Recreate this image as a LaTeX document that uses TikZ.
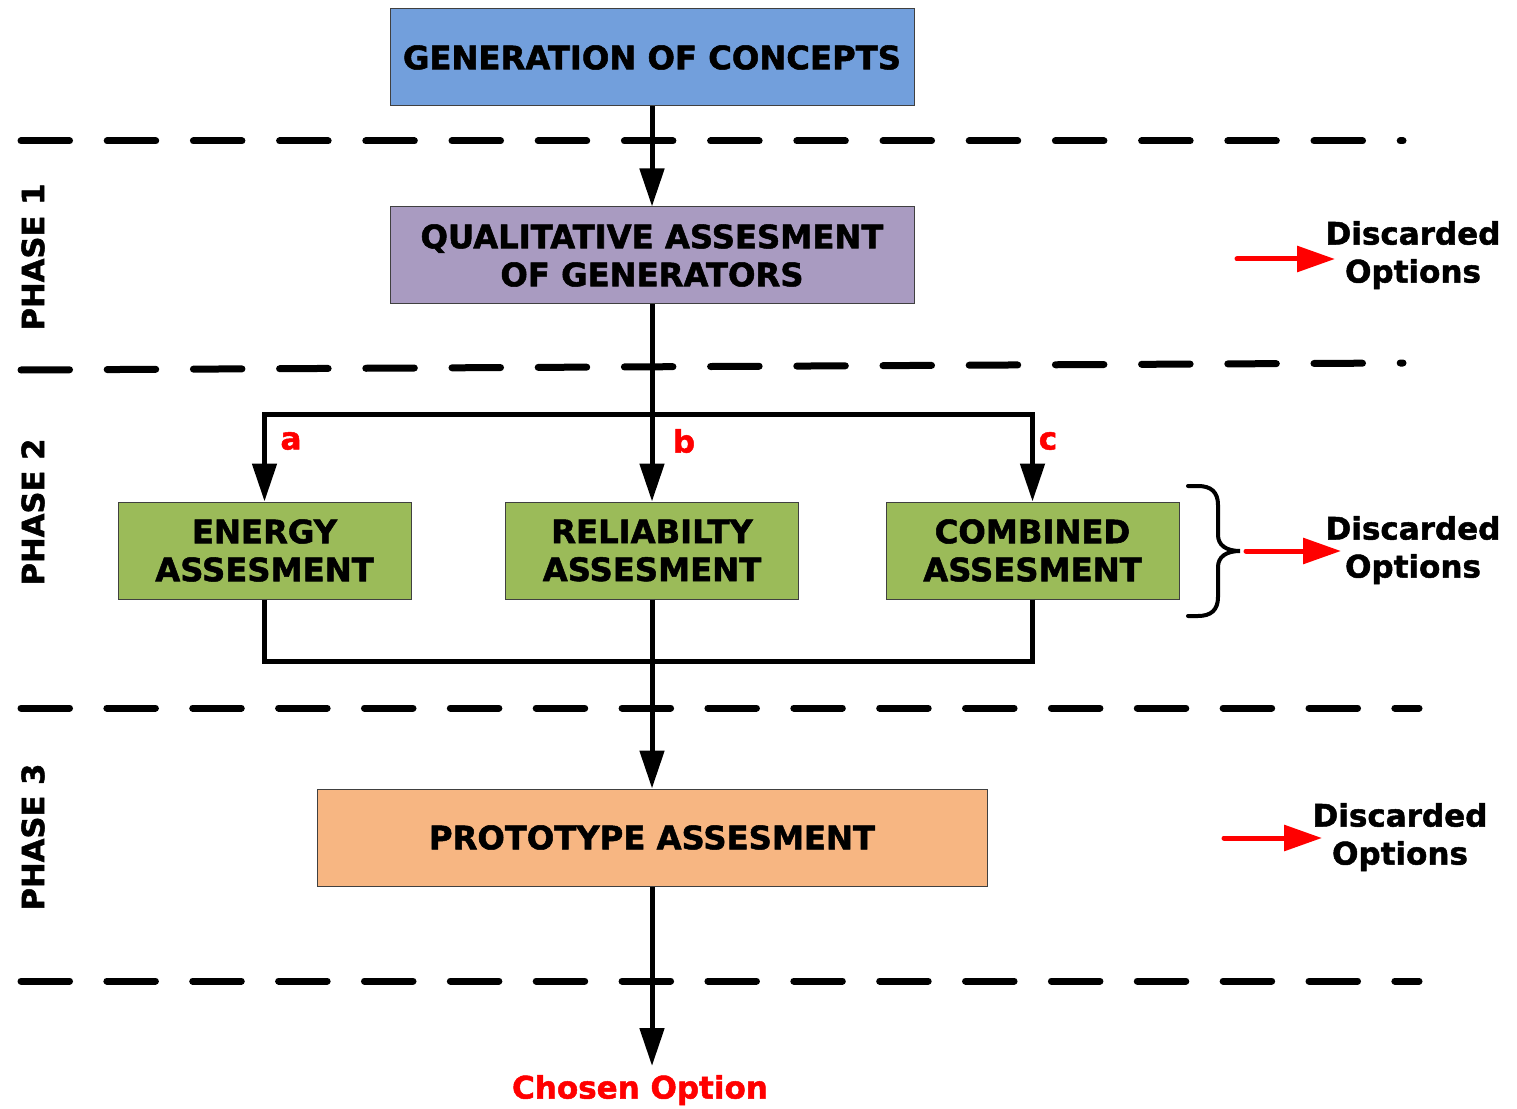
\documentclass[tikz,border=0pt]{standalone}
\usepackage{fontspec}
\setmainfont{DejaVu Sans}[BoldFeatures={FakeBold=1.6}]
\usetikzlibrary{arrows.meta}
\definecolor{cblue}{RGB}{114,159,220}
\definecolor{cpurple}{RGB}{169,155,193}
\definecolor{cgreen}{RGB}{155,187,89}
\definecolor{corange}{RGB}{247,182,130}
\definecolor{boxborder}{RGB}{64,64,64}
\definecolor{cred}{RGB}{255,0,0}
\begin{document}
\begin{tikzpicture}[x=0.75pt,y=-0.75pt,
  box/.style={draw=boxborder, line width=0.75pt, inner sep=0pt, align=center,
    font=\bfseries\fontsize{24.2}{28.5}\selectfont, minimum height=72.75pt},
  bigbox/.style={box, minimum width=393pt},
  greenbox/.style={box, fill=cgreen, minimum width=219.75pt},
  conn/.style={line width=3.75pt},
  arr/.style={conn, -{Triangle[length=28.5pt,width=18pt]}},
  redarr/.style={line width=3.75pt, draw=cred, line cap=round, -{Triangle[length=28.5pt,width=19pt]}},
  phaseline/.style={line width=5.25pt, line cap=round, dash pattern=on 36.4pt off 28.25pt},
  phaselineb/.style={line width=5.25pt, line cap=round, dash pattern=on 36.4pt off 28.0pt},
  phase/.style={rotate=90, font=\bfseries\fontsize{23}{23}\selectfont},
  disc/.style={align=center, font=\bfseries\fontsize{23.25}{28.5}\selectfont},
  lab/.style={text=cred, font=\bfseries\fontsize{23.25}{23.25}\selectfont}]
\useasboundingbox (0,0) rectangle (1517,1109);

% phase separators
\draw[phaseline] (21,141) -- (1403,141);
\draw[phaseline] (21,370) -- (1403,363);
\draw[phaselineb] (21,708) -- (1419,708);
\draw[phaselineb] (21,981) -- (1419,981);

% phase labels
\node[phase] (p1) at (33,257) {PHASE 1};
\node[phase] (p2) at (33,512) {PHASE 2};
\node[phase] (p3) at (33,837) {PHASE 3};

% boxes
\node[bigbox, fill=cblue] (gen) at (652,57.5) {GENERATION OF CONCEPTS};
\node[bigbox, fill=cpurple] (qual) at (652,255.5) {QUALITATIVE ASSESMENT\\OF GENERATORS};
\node[greenbox] (energy) at (264.5,550.5) {ENERGY\\ASSESMENT};
\node[greenbox] (rel) at (652,550.5) {RELIABILTY\\ASSESMENT};
\node[greenbox] (comb) at (1032.5,550.5) {COMBINED\\ASSESMENT};
\node[box, fill=corange, minimum width=502.5pt] (proto) at (652,837.5) {PROTOTYPE ASSESMENT};

% connectors
\coordinate (split) at (652,414);
\coordinate (join) at (652,661);
\coordinate (out) at (652,1066);
\draw[arr] (gen) -- (qual);
\draw[conn] (qual.south) -- (split);
\draw[arr] (split) -| (energy.north);
\draw[arr] (split) -| (comb.north);
\draw[arr] (split) -- (rel.north);
\draw[conn] (energy.south) |- (join);
\draw[conn] (comb.south) |- (join);
\draw[arr] (rel.south) -- (proto.north);
\draw[arr] (proto.south) -- (out);

% labels
\node[lab] (la) at (291,441) {a};
\node[lab] (lb) at (684,441) {b};
\node[lab] (lc) at (1048,441) {c};
\node[lab] (chosen) at (640,1090) {Chosen Option};

% discarded options
\node[disc] (d1) at (1413,255) {Discarded\\Options};
\node[disc] (d2) at (1413,550) {Discarded\\Options};
\node[disc] (d3) at (1400,837) {Discarded\\Options};
\coordinate (r1s) at (1237,259); \coordinate (r1e) at (1335,259);
\coordinate (r2s) at (1246,551); \coordinate (r2e) at (1341,551);
\coordinate (r3s) at (1224,838); \coordinate (r3e) at (1322,838);
\draw[redarr] (r1s) -- (r1e);
\draw[redarr] (r2s) -- (r2e);
\draw[redarr] (r3s) -- (r3e);

% brace
\draw[line width=3pt, line cap=round]
  (1188,486) -- (1198,486) .. controls (1211,486) and (1218,492) .. (1218,505)
  -- (1218,535) .. controls (1218,545) and (1226,551) .. (1240,551)
  .. controls (1226,551) and (1218,557) .. (1218,567)
  -- (1218,597) .. controls (1218,610) and (1211,616) .. (1198,616) -- (1188,616);
\end{tikzpicture}
\end{document}
